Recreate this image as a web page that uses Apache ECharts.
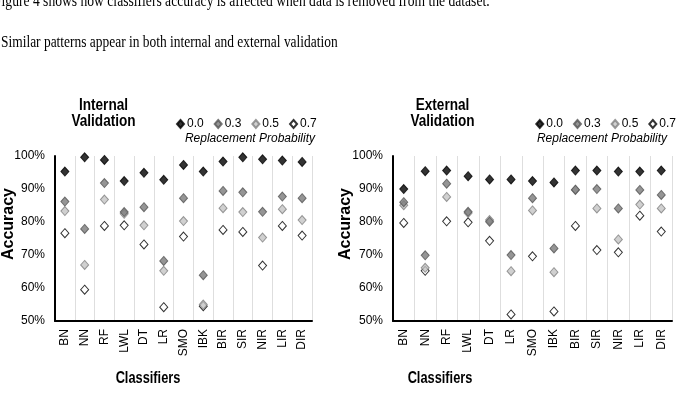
<!DOCTYPE html>
<html>
<head>
<meta charset="utf-8">
<script src="https://cdn.jsdelivr.net/npm/echarts@6/dist/echarts.min.js"></script>
<style>
  html, body { margin: 0; padding: 0; background: #fff; }
  #chart { width: 678px; height: 411px; }
</style>
</head>
<body>
<div id="chart"></div>
<script>
const classifiers = ["BN", "NN", "RF", "LWL", "DT", "LR", "SMO", "IBK", "BIR", "SIR", "NIR", "LIR", "DIR"];
const probabilities = ["0.0", "0.3", "0.5", "0.7"];
const yTicks = [50, 60, 70, 80, 90, 100];

// internal validation, accuracy % per classifier
const internal00 = [95.3, 99.6, 98.8, 92.4, 94.9, 92.8, 97.3, 95.3, 98.3, 99.6, 99.0, 98.6, 98.2];
const internal03 = [86.2, 77.9, 91.8, 83.0, 84.5, 68.2, 87.2, 63.9, 89.4, 89.0, 83.1, 87.7, 87.2];
const internal05 = [83.3, 67.0, 86.8, 82.5, 79.0, 65.2, 80.3, 55.0, 84.2, 83.0, 75.3, 83.9, 80.6];
const internal07 = [76.6, 59.5, 78.8, 79.0, 73.2, 54.2, 75.6, 54.5, 77.6, 77.0, 66.8, 78.8, 75.9];

// external validation
const external00 = [90.0, 95.4, 95.6, 93.9, 92.9, 92.9, 92.4, 92.0, 95.6, 95.6, 95.3, 95.3, 95.6];
const external03 = [86.0, 69.9, 91.6, 83.1, 80.1, 70.0, 87.2, 72.0, 89.8, 90.0, 84.1, 89.7, 88.2];
const external05 = [85.1, 66.1, 87.6, 82.7, 80.6, 65.1, 83.5, 64.8, 89.7, 84.1, 74.7, 85.3, 84.1];
const external07 = [79.7, 65.2, 80.2, 79.9, 74.3, 52.0, 69.6, 52.9, 78.8, 71.5, 70.8, 81.9, 77.1];

const markerStyles = [
  { color: "#000000", borderColor: "#000000", borderWidth: 1 },
  { color: "#7a7a7a", borderColor: "#555555", borderWidth: 1 },
  { color: "#c4c4c4", borderColor: "#808080", borderWidth: 1 },
  { color: "#ffffff", borderColor: "#000000", borderWidth: 1 },
];

const font = "Arial, 'Liberation Sans', sans-serif";
const serif = "'Liberation Serif', 'Times New Roman', serif";

function xAxisFor(gridIndex) {
  return {
    gridIndex,
    type: "category",
    data: classifiers,
    boundaryGap: true,
    axisLine: { lineStyle: { color: "#000", width: 2 } },
    axisTick: { show: false },
    axisLabel: { rotate: 90, fontFamily: font, fontSize: 12, color: "#000", margin: 8 },
    splitLine: { show: true, lineStyle: { color: "#dedede", width: 1 } },
  };
}

function yAxisFor(gridIndex) {
  return {
    gridIndex,
    type: "value",
    min: yTicks[0],
    max: yTicks[yTicks.length - 1],
    interval: 10,
    axisLine: { show: true, lineStyle: { color: "#000", width: 2 } },
    axisTick: { show: false },
    axisLabel: { formatter: "{value}%", fontFamily: font, fontSize: 12, color: "#000", margin: 10 },
    splitLine: { show: false },
  };
}

function seriesFor(gridIndex, datasets) {
  return datasets.map((data, i) => ({
    name: probabilities[i],
    type: "scatter",
    xAxisIndex: gridIndex,
    yAxisIndex: gridIndex,
    symbol: "diamond",
    symbolSize: [8, 9],
    itemStyle: markerStyles[i],
    data,
    z: 10 - i,
  }));
}

function legendFor(pos) {
  return Object.assign({
    top: 113,
    data: probabilities,
    icon: "diamond",
    itemWidth: 7,
    itemHeight: 8,
    itemGap: 10,
    selectedMode: false,
    textStyle: { fontFamily: font, fontSize: 12, color: "#000", padding: [0, 0, 0, -2] },
  }, pos);
}

// plain text pieces, slightly condensed like the scanned figure
function label(text, x, y, opts) {
  return {
    type: "text", x, y,
    scaleX: opts.scaleX || 1,
    rotation: opts.rotation || 0,
    style: {
      text,
      font: opts.font,
      fill: "#000",
      textAlign: opts.align || "left",
      textVerticalAlign: opts.valign || "top",
      lineHeight: opts.lineHeight,
    },
  };
}

const chart = echarts.init(document.getElementById("chart"), null, { renderer: "canvas" });
chart.setOption({
  animation: false,
  backgroundColor: "#fff",
  title: [
    {
      text: "Replacement Probability", right: 358, top: 128,
      textStyle: { fontFamily: font, fontStyle: "italic", fontWeight: "normal", fontSize: 12, color: "#000" },
    },
    {
      text: "Replacement Probability", right: 6, top: 128,
      textStyle: { fontFamily: font, fontStyle: "italic", fontWeight: "normal", fontSize: 12, color: "#000" },
    },
  ],
  graphic: [
    label("Figure 4 shows how classifiers accuracy is affected when data is removed from the dataset.", -6, -6,
      { font: "16px " + serif, scaleX: 0.85 }),
    label("Similar patterns appear in both internal and external validation", 1, 35,
      { font: "16px " + serif, scaleX: 0.84 }),
    label("Internal\nValidation", 103.5, 97, { font: "bold 17px " + font, scaleX: 0.8, align: "center", lineHeight: 16 }),
    label("External\nValidation", 442.5, 97, { font: "bold 17px " + font, scaleX: 0.8, align: "center", lineHeight: 16 }),
    label("Accuracy", 9, 224, { font: "bold 16px " + font, rotation: Math.PI / 2, align: "center", valign: "middle" }),
    label("Accuracy", 346, 224, { font: "bold 16px " + font, rotation: Math.PI / 2, align: "center", valign: "middle" }),
    label("Classifiers", 148, 379, { font: "bold 16px " + font, scaleX: 0.8, align: "center", valign: "middle" }),
    label("Classifiers", 440, 379, { font: "bold 16px " + font, scaleX: 0.8, align: "center", valign: "middle" }),
  ],
  legend: [legendFor({ left: 171 }), legendFor({ right: -3 })],
  grid: [
    { left: 55, top: 156, width: 257, height: 165 },
    { left: 393, top: 156, width: 279, height: 165 },
  ],
  xAxis: [xAxisFor(0), xAxisFor(1)],
  yAxis: [yAxisFor(0), yAxisFor(1)],
  series: [
    ...seriesFor(0, [internal00, internal03, internal05, internal07]),
    ...seriesFor(1, [external00, external03, external05, external07]),
  ],
});
</script>
</body>
</html>
